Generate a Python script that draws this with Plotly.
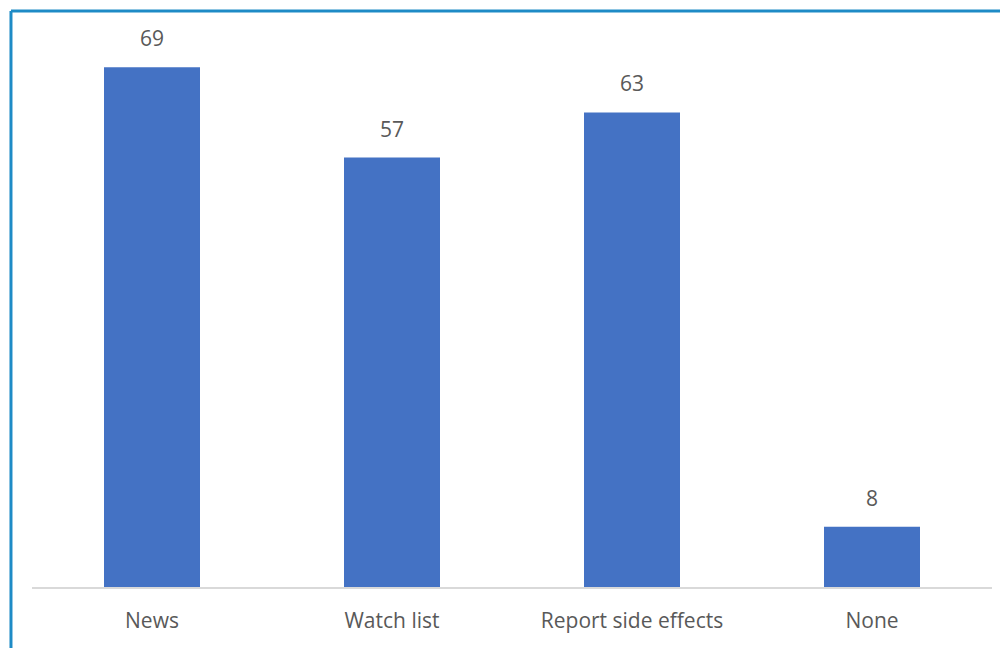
import plotly.graph_objects as go

categories = ["News", "Watch list", "Report side effects", "None"]
values = [69, 57, 63, 8]

BAR = "#4472C4"
TEXT = "#595959"
FRAME = "#1E8BC6"
FONT = "Open Sans, Liberation Sans, sans-serif"

fig = go.Figure(go.Bar(x=categories, y=values, marker=dict(color=BAR, line=dict(width=0)),
                       width=0.4, hoverinfo="skip"))

for c, v in zip(categories, values):
    fig.add_annotation(x=c, y=v, text=str(v), showarrow=False, yanchor="bottom",
                       yshift=13, font=dict(size=21, color=TEXT, family=FONT))

# frame lines (cropped at right and bottom)
fig.add_shape(type="line", xref="paper", yref="paper", x0=-0.0219, x1=1.02, y0=1.0195, y1=1.0195,
              line=dict(color=FRAME, width=3))
fig.add_shape(type="line", xref="paper", yref="paper", x0=-0.0219, x1=-0.0219, y0=1.0195, y1=-0.2,
              line=dict(color=FRAME, width=3))

fig.update_layout(
    width=1000, height=648,
    margin=dict(l=32, r=8, t=22, b=61),
    paper_bgcolor="white", plot_bgcolor="white",
    showlegend=False,
    xaxis=dict(showline=True, linecolor="#D9D9D9", linewidth=2, ticks="", showgrid=False,
               ticklabelstandoff=14,
               tickfont=dict(size=21, color=TEXT, family=FONT),
               fixedrange=True),
    yaxis=dict(range=[0, 75], visible=False, showgrid=False, zeroline=False, fixedrange=True),
)

fig.write_html("out.html", config={"displayModeBar": False})
